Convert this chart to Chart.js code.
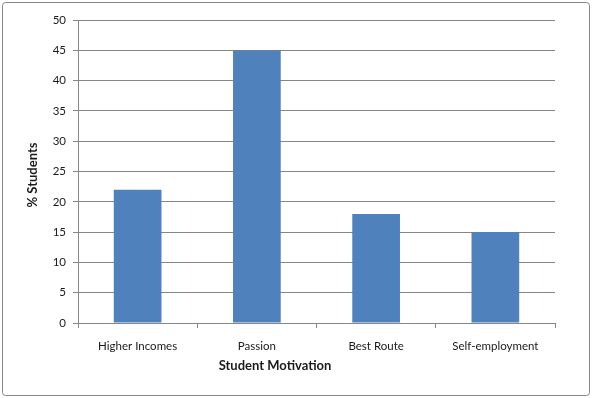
<!DOCTYPE html>
<html>
<head>
<meta charset="utf-8">
<script src="https://cdn.jsdelivr.net/npm/chart.js@4"></script>
<style>
  html, body { margin: 0; padding: 0; background: #fff; }
  #wrap { position: absolute; left: 0; top: 0; width: 592px; height: 398px; }
</style>
</head>
<body>
<div id="wrap"><canvas id="chart" width="592" height="398"></canvas></div>
<script>
const categories = ['Higher Incomes', 'Passion', 'Best Route', 'Self-employment'];
const students = [22, 45, 18, 15];
const yTicks = [0, 5, 10, 15, 20, 25, 30, 35, 40, 45, 50];
const xTitle = 'Student Motivation';
const yTitle = '% Students';

const axisGray = '#868686';
const textColor = '#1a1a1a';

// frame + axis titles drawn at Excel-like spots
const framePlugin = {
  id: 'frame',
  beforeDraw(chart) {
    const ctx = chart.ctx;
    ctx.save();
    ctx.fillStyle = '#fff';
    ctx.fillRect(0, 0, chart.width, chart.height);
    ctx.strokeStyle = axisGray;
    ctx.lineWidth = 1;
    ctx.beginPath();
    ctx.roundRect(2.5, 2.5, 587, 393, 3);
    ctx.stroke();
    ctx.restore();
  },
  afterDraw(chart) {
    const ctx = chart.ctx;
    ctx.save();
    ctx.fillStyle = textColor;
    ctx.font = 'bold 13px Lato';
    ctx.textAlign = 'center';
    ctx.textBaseline = 'middle';
    ctx.fillText(xTitle, 275, 366);
    ctx.translate(33, 175);
    ctx.rotate(-Math.PI / 2);
    ctx.fillText(yTitle, 0, 0);
    ctx.restore();
  }
};

new Chart(document.getElementById('chart'), {
  type: 'bar',
  data: {
    labels: categories,
    datasets: [{
      data: students,
      backgroundColor: '#4F81BD',
      categoryPercentage: 1,
      barPercentage: 0.4
    }]
  },
  options: {
    responsive: false,
    animation: false,
    layout: { padding: { top: 20, right: 37, left: 0, bottom: 0 } },
    plugins: { legend: { display: false }, tooltip: { enabled: false } },
    scales: {
      x: {
        grid: { offset: true, drawOnChartArea: false, color: axisGray, tickLength: 5 },
        border: { color: axisGray },
        ticks: { color: textColor, font: { family: 'Lato', size: 11.5 }, padding: 11, maxRotation: 0 },
        afterFit(scale) { scale.height = 75; }
      },
      y: {
        min: 0,
        max: 50,
        afterBuildTicks(scale) { scale.ticks = yTicks.map(v => ({ value: v })); },
        grid: { color: axisGray, tickLength: 5 },
        border: { color: axisGray },
        ticks: { color: textColor, font: { family: 'Lato', size: 11.5 }, padding: 7 },
        afterFit(scale) { scale.width = 78; }
      }
    }
  },
  plugins: [framePlugin]
});
</script>
</body>
</html>
